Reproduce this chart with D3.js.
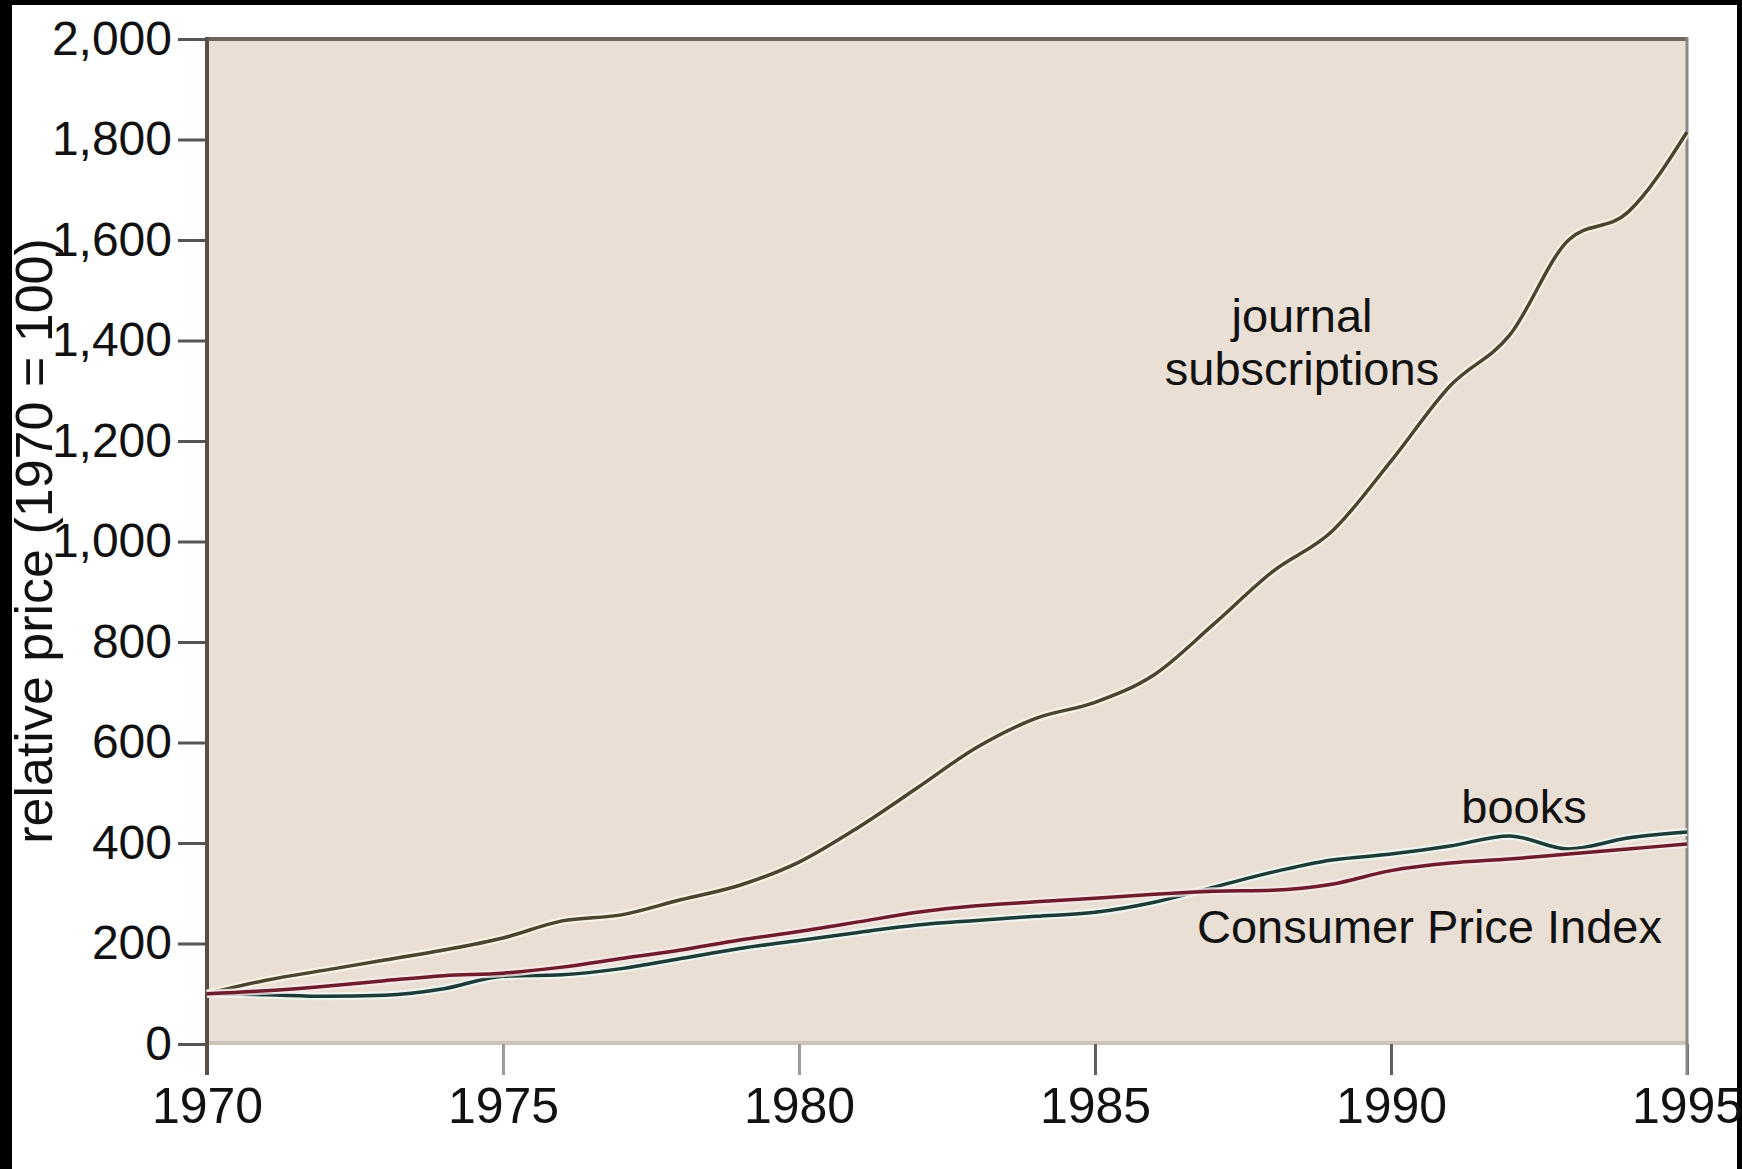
<!DOCTYPE html>
<html>
<head>
<meta charset="utf-8">
<script src="https://cdn.jsdelivr.net/npm/d3@7"></script>
<style>
  body { margin: 0; background: #fff; }
  svg { display: block; }
  text { font-family: "Liberation Sans", Arial, sans-serif; fill: #111; }
</style>
</head>
<body>
<div id="chart"></div>
<script>
// values (1970 = 100)
var years = [1970, 1971, 1972, 1973, 1974, 1975, 1976, 1977, 1978, 1979, 1980, 1981, 1982,
             1983, 1984, 1985, 1986, 1987, 1988, 1989, 1990, 1991, 1992, 1993, 1994, 1995]
var journal = [100, 127, 147, 167, 187, 211, 245, 257, 287, 316, 362, 431, 510,
               590, 648, 680, 735, 835, 940, 1020, 1160, 1310, 1410, 1600, 1655, 1815]
var books = [100, 98, 95, 97, 110, 135, 138, 150, 170, 190, 206, 222, 237,
             246, 254, 262, 282, 312, 342, 366, 378, 394, 414, 388, 410, 422]
var cpi = [100, 106, 115, 126, 136, 141, 153, 170, 187, 207, 224, 243, 262,
           275, 283, 290, 298, 304, 306, 318, 345, 360, 368, 378, 388, 398]

var yTicks = [0, 200, 400, 600, 800, 1000, 1200, 1400, 1600, 1800, 2000]
var xTicks = [1970, 1975, 1980, 1985, 1990, 1995]

var W = 1742, H = 1169
// plot box (don't call these top/left, window.top is read only)
var plotL = 207, plotR = 1687, plotT = 39, plotB = 1044

var svg = d3.select("#chart").append("svg")
    .attr("width", W)
    .attr("height", H)

// black frame around the picture
svg.append("rect").attr("x", 0).attr("y", 0).attr("width", W).attr("height", H).attr("fill", "#000")
svg.append("rect").attr("x", 12).attr("y", 5).attr("width", W - 17).attr("height", H - 5).attr("fill", "#fff")

var x = d3.scaleLinear().domain([1970, 1995]).range([plotL, plotR])
var y = d3.scaleLinear().domain([0, 2000]).range([plotB, plotT])

// plot background
svg.append("rect")
    .attr("x", plotL).attr("y", plotT)
    .attr("width", plotR - plotL).attr("height", plotB - plotT)
    .attr("fill", "#e9dfd4")

// light line along the bottom of the plot
svg.append("line")
    .attr("x1", plotL).attr("x2", plotR)
    .attr("y1", plotB - 1).attr("y2", plotB - 1)
    .attr("stroke", "#cdc3b9").attr("stroke-width", 4)

// y axis
var yAxis = svg.append("g")
    .attr("transform", "translate(" + plotL + ",0)")
    .call(d3.axisLeft(y).tickValues(yTicks).tickFormat(d3.format(",")).tickSize(29).tickPadding(6))
yAxis.select(".domain").remove()
yAxis.selectAll(".tick line").attr("stroke", "#555").attr("stroke-width", 3)
yAxis.selectAll(".tick text").attr("font-size", "48px").attr("font-family", "Liberation Sans, Arial, sans-serif").attr("fill", "#111")

// x axis
var xAxis = svg.append("g")
    .attr("transform", "translate(0," + plotB + ")")
    .call(d3.axisBottom(x).tickValues(xTicks).tickFormat(d3.format("d")).tickSize(31).tickPadding(12))
xAxis.select(".domain").remove()
xAxis.selectAll(".tick line")
    .attr("stroke", function (d) { return d < 1985 ? "#9a9a9a" : "#5e5e5e" })
    .attr("stroke-width", 3)
xAxis.selectAll(".tick text").attr("font-size", "50px").attr("font-family", "Liberation Sans, Arial, sans-serif").attr("fill", "#111")

// frame lines
svg.append("line").attr("x1", plotL).attr("x2", plotR).attr("y1", plotT).attr("y2", plotT)
    .attr("stroke", "#6f675c").attr("stroke-width", 4)
svg.append("line").attr("x1", plotL).attr("x2", plotL).attr("y1", plotT - 2).attr("y2", plotB + 31)
    .attr("stroke", "#575047").attr("stroke-width", 4)
svg.append("line").attr("x1", plotR).attr("x2", plotR).attr("y1", plotT - 2).attr("y2", plotB + 31)
    .attr("stroke", "#8a8884").attr("stroke-width", 3)

// y axis title
svg.append("text")
    .attr("transform", "translate(52," + 541 + ") rotate(-90)")
    .attr("text-anchor", "middle")
    .attr("font-size", "52px")
    .text("relative price (1970 = 100)")

var series = [
    {name: "journal", values: journal, color: "#4b4430", halo: "#fbf6e6"},
    {name: "books", values: books, color: "#1d3c37", halo: "#eef8f4"},
    {name: "cpi", values: cpi, color: "#6e1b2c", halo: "#f9e9ea"}
]

var line = d3.line()
    .x(function (d, i) { return x(years[i]) })
    .y(function (d) { return y(d) })
    .curve(d3.curveMonotoneX)

series.forEach(function (s) {
    svg.append("path")
        .attr("d", line(s.values))
        .attr("fill", "none")
        .attr("stroke", s.halo)
        .attr("stroke-width", 8)
        .attr("opacity", 0.8)
    svg.append("path")
        .attr("d", line(s.values))
        .attr("fill", "none")
        .attr("stroke", s.color)
        .attr("stroke-width", 3.5)
})

// series labels
svg.append("text").attr("x", 1302).attr("y", 332).attr("text-anchor", "middle")
    .attr("font-size", "47px").text("journal")
svg.append("text").attr("x", 1302).attr("y", 385).attr("text-anchor", "middle")
    .attr("font-size", "47px").text("subscriptions")
svg.append("text").attr("x", 1524).attr("y", 823).attr("text-anchor", "middle")
    .attr("font-size", "47px").text("books")
svg.append("text").attr("x", 1662).attr("y", 943).attr("text-anchor", "end")
    .attr("font-size", "47px").text("Consumer Price Index")
</script>
</body>
</html>
